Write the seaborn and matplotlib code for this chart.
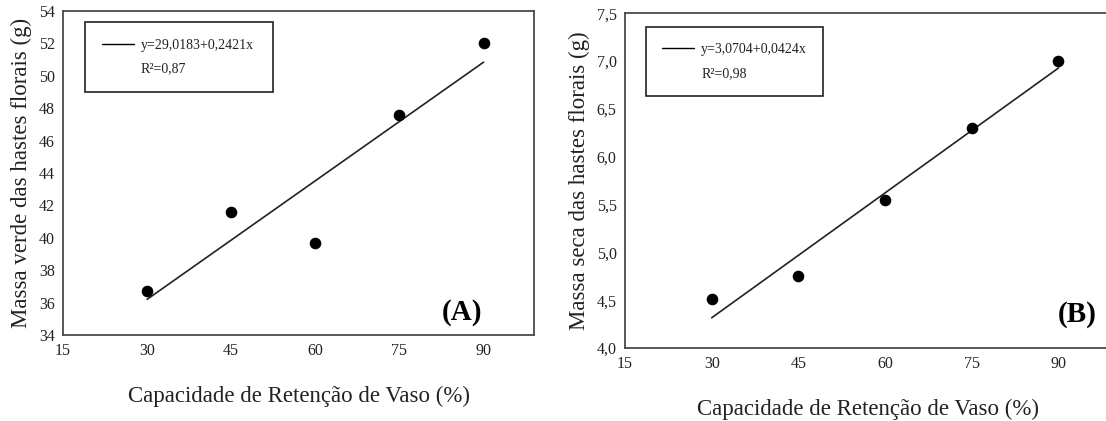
import matplotlib
matplotlib.use("Agg")
import matplotlib.pyplot as plt
from matplotlib.lines import Line2D
from matplotlib.ticker import FuncFormatter
import seaborn as sns
import pandas as pd

# ---- data ----
capacidade = [30, 45, 60, 75, 90]
massa_verde = [36.7, 41.6, 39.7, 47.6, 52.0]
massa_seca = [4.51, 4.75, 5.55, 6.30, 7.00]

x_ticks = [15, 30, 45, 60, 75, 90]
y_ticks_a = [34, 36, 38, 40, 42, 44, 46, 48, 50, 52, 54]
y_ticks_b = [4.0, 4.5, 5.0, 5.5, 6.0, 6.5, 7.0, 7.5]

eq_a = "y=29,0183+0,2421x"
r2_a = "R²=0,87"
eq_b = "y=3,0704+0,0424x"
r2_b = "R²=0,98"

xlabel = "Capacidade de Retenção de Vaso (%)"
ylabel_a = "Massa verde das hastes florais (g)"
ylabel_b = "Massa seca das hastes florais (g)"

df = pd.DataFrame({"cap": capacidade, "verde": massa_verde, "seca": massa_seca})

sns.set_style("white")
plt.rcParams["font.family"] = ["Liberation Serif", "DejaVu Serif"]

W, H = 1106, 421
fig = plt.figure(figsize=(W / 100, H / 100), dpi=100)
axA = fig.add_axes([63 / W, (H - 335) / H, 471 / W, 324 / H])
axB = fig.add_axes([625 / W, (H - 348) / H, 485.5 / W, 334.7 / H])

spine_col = "#4a4a4a"


def style_axis(ax, yticks, ylabel, fmt):
    ax.set_xlim(15, 99)
    ax.set_ylim(yticks[0], yticks[-1])
    ax.set_xticks(x_ticks)
    ax.set_yticks(yticks)
    ax.yaxis.set_major_formatter(FuncFormatter(fmt))
    for s in ax.spines.values():
        s.set_color(spine_col)
        s.set_linewidth(1.3)
        s.set_visible(True)
    ax.tick_params(direction="in", length=3, width=0.8, color=spine_col,
                   labelsize=11.5, pad=6, labelcolor="#222222")
    ax.set_xlabel(xlabel, fontsize=16.5, labelpad=19, color="#222222")
    ax.set_ylabel(ylabel, fontsize=16.5, labelpad=5, color="#222222")


def add_legend(ax, eq, r2, box):
    handles = [Line2D([], [], color="black", lw=1.0),
               Line2D([], [], color="none", lw=0)]
    leg = ax.legend(handles, [eq, r2], loc="upper left",
                    bbox_to_anchor=box, mode="expand", borderaxespad=0,
                    frameon=True, fancybox=False, fontsize=10,
                    handlelength=2.3, handletextpad=0.5,
                    labelspacing=0.75, borderpad=1.2)
    fr = leg.get_frame()
    fr.set_edgecolor("#222222")
    fr.set_linewidth(1.2)
    fr.set_facecolor("white")
    fr.set_alpha(1)
    for t in leg.get_texts():
        t.set_color("#222222")
    return leg


for ax, ycol in ((axA, "verde"), (axB, "seca")):
    sns.regplot(data=df, x="cap", y=ycol, ax=ax, ci=None, truncate=True,
                scatter_kws=dict(color="black", s=70, edgecolor="black",
                                 linewidths=0, alpha=1, zorder=3),
                line_kws=dict(color="#222222", lw=1.2, zorder=2))

style_axis(axA, y_ticks_a, ylabel_a, lambda v, p: f"{v:.0f}")
style_axis(axB, y_ticks_b, ylabel_b, lambda v, p: f"{v:.1f}".replace(".", ","))

add_legend(axA, eq_a, r2_a, (0.0467, 0.756, 0.4, 0.21))
add_legend(axB, eq_b, r2_b, (0.0426, 0.751, 0.3654, 0.209))

axA.text(0.847, 0.068, "(A)", transform=axA.transAxes, ha="center",
         va="center", fontsize=21, fontweight="bold", color="black")
axB.text(0.931, 0.10, "(B)", transform=axB.transAxes, ha="center",
         va="center", fontsize=21, fontweight="bold", color="black")

fig.savefig("out.png", dpi=100, facecolor="white")
